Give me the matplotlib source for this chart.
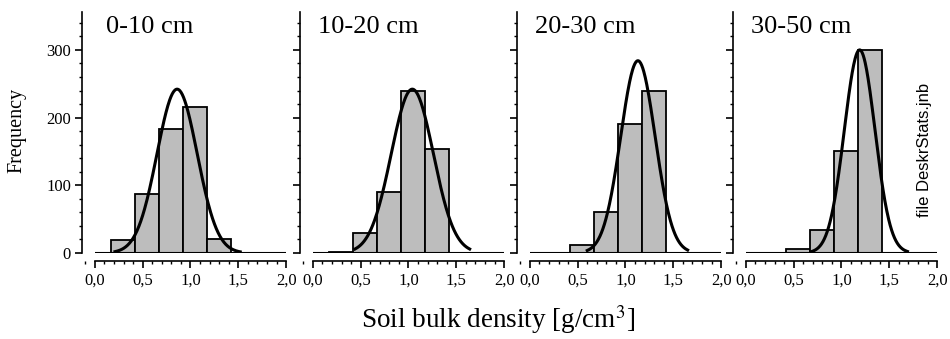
import numpy as np
from matplotlib import pyplot as plt
from matplotlib.ticker import MultipleLocator

plt.rcParams['font.family'] = ['Liberation Serif', 'DejaVu Serif']
plt.rcParams['mathtext.fontset'] = 'stix'

# depth classes (one panel each)
depths = ['0-10 cm', '10-20 cm', '20-30 cm', '30-50 cm']

# histogram bins (g/cm3), same for all panels
bin_edges = [0.17, 0.42, 0.67, 0.92, 1.17, 1.42]
counts_0_10 = [19, 87, 183, 215, 21]
counts_10_20 = [2, 29, 90, 240, 154]
counts_20_30 = [0, 12, 60, 190, 240]
counts_30_50 = [0, 6, 34, 151, 300]
counts = [counts_0_10, counts_10_20, counts_20_30, counts_30_50]

# fitted normal curves
fit_mean = [0.86, 1.04, 1.13, 1.19]
fit_sd = [0.21, 0.22, 0.18, 0.16]
fit_peak = [242, 242, 284, 300]
fit_lo = [0.21, 0.44, 0.60, 0.69]
fit_hi = [1.52, 1.64, 1.65, 1.69]

xticks = [0.0, 0.5, 1.0, 1.5, 2.0]
xtick_labels = ['0,0', '0,5', '1,0', '1,5', '2,0']
yticks = [0, 100, 200, 300]
ytick_labels = ['0', '100', '200', '300']

W, H = 950, 339
fig = plt.figure(figsize=(W / 100, H / 100), dpi=100)

lefts = [82, 300, 517, 733]
for i, left in enumerate(lefts):
    ax = fig.add_axes([left / W, 86 / H, 206 / W, 241 / H])
    ax.set_xlim(-0.135, 2.02)
    ax.set_ylim(0, 356)

    width = bin_edges[1] - bin_edges[0]
    ax.bar(bin_edges[:-1], counts[i], width=width, align='edge',
           color='#bdbdbd', edgecolor='black', linewidth=1.3, zorder=2)

    xs = np.linspace(fit_lo[i], fit_hi[i], 200)
    ys = fit_peak[i] * np.exp(-0.5 * ((xs - fit_mean[i]) / fit_sd[i]) ** 2)
    ax.plot(xs, ys, color='black', lw=2.2, zorder=3)

    # baseline at zero frequency
    ax.hlines(0, xticks[0], xticks[-1], color='black', lw=1.5, zorder=4)

    for s in ['top', 'right']:
        ax.spines[s].set_visible(False)
    ax.spines['bottom'].set_position(('outward', 6))
    ax.spines['bottom'].set_bounds(xticks[0], xticks[-1])
    ax.spines['left'].set_linewidth(1.2)
    ax.spines['bottom'].set_linewidth(1.2)

    ax.set_xticks(xticks, xtick_labels)
    ax.xaxis.set_minor_locator(MultipleLocator(0.1))
    ax.set_yticks(yticks, ytick_labels)
    ax.yaxis.set_minor_locator(MultipleLocator(20))
    ax.tick_params(which='major', length=5, width=1.2, labelsize=12, pad=3)
    ax.tick_params(which='minor', length=2.5, width=1.0)
    if i > 0:
        ax.tick_params(axis='y', labelleft=False)

    ax.text(0.33, 0.913, depths[i], transform=ax.transAxes, ha='center',
            va='baseline', fontsize=19)

fig.text(17 / W, 1 - 130 / H, 'Frequency', rotation=90, ha='center',
         va='center', fontsize=14.5)
fig.text(498 / W, 1 - 328 / H, 'Soil bulk density [g/cm$^3$]', ha='center',
         va='baseline', fontsize=19.5)
fig.text(924 / W, 1 - 150 / H, 'file DeskrStats.jnb', rotation=90,
         ha='center', va='center', fontsize=12, family='Liberation Sans')

fig.savefig('out.png', dpi=100)
